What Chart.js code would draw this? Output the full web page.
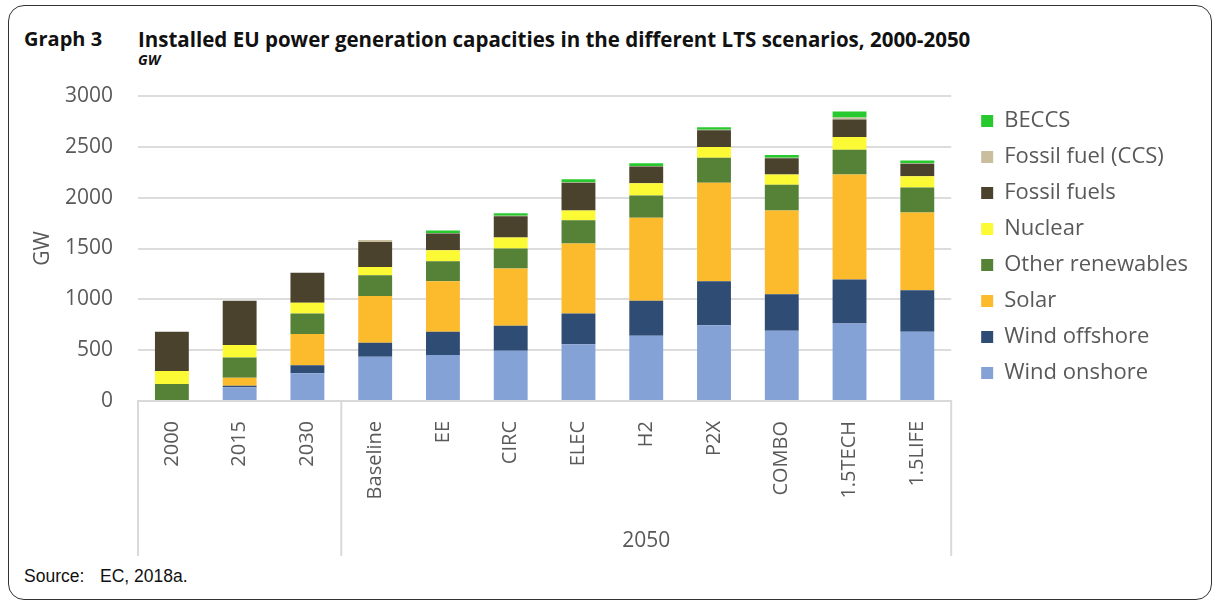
<!DOCTYPE html>
<html>
<head>
<meta charset="utf-8">
<script src="https://cdn.jsdelivr.net/npm/chart.js@4"></script>
<style>
  html, body { margin: 0; padding: 0; background: #fff; }
  body { width: 1215px; height: 601px; position: relative; overflow: hidden; }
  #frame { position: absolute; left: 8px; top: 5px; width: 1204px; height: 595px;
           border: 1.5px solid #333; border-radius: 16px; box-sizing: border-box; }
  .t { position: absolute; white-space: nowrap; color: #111; }
  #num { left: 24px; top: 25px; font: 700 20px "Open Sans", sans-serif; }
  #title { left: 138px; top: 25px; font: 700 20.5px "Open Sans", sans-serif; }
  #unit { left: 138px; top: 50px; font: italic 700 14px "Open Sans", sans-serif; }
  #src1 { left: 24px; top: 566px; font: 17.5px "Liberation Sans Narrow", sans-serif; }
  #src2 { left: 100px; top: 566px; font: 17.5px "Liberation Sans Narrow", sans-serif; }
  #chart { position: absolute; left: 0; top: 0; }
</style>
</head>
<body>
<div id="frame"></div>
<div class="t" id="num">Graph 3</div>
<div class="t" id="title">Installed EU power generation capacities in the different LTS scenarios, 2000-2050</div>
<div class="t" id="unit">GW</div>
<div class="t" id="src1">Source:</div>
<div class="t" id="src2">EC, 2018a.</div>
<canvas id="chart" width="1215" height="601"></canvas>
<script>
// Categories (years, then 2050 scenarios)
const categories = ['2000', '2015', '2030', 'Baseline', 'EE', 'CIRC', 'ELEC', 'H2', 'P2X', 'COMBO', '1.5TECH', '1.5LIFE'];
// Group labels under the category axis: [first index, last index, label]
const groups = [[0, 2, ''], [3, 11, '2050']];

// Installed capacity, GW
const windOnshore  = [0, 135, 272, 435, 452, 494, 557, 641, 746, 690, 763, 681];
const windOffshore = [0, 15, 79, 137, 229, 246, 304, 344, 432, 360, 432, 409];
const solar        = [0, 79, 307, 461, 498, 563, 687, 818, 969, 825, 1034, 763];
const otherRenew   = [167, 200, 203, 203, 196, 196, 229, 219, 246, 252, 243, 246];
const nuclear      = [128, 121, 105, 82, 108, 108, 98, 121, 105, 101, 124, 111];
const fossil       = [386, 435, 295, 246, 164, 209, 272, 164, 164, 160, 173, 124];
const fossilCcs    = [0, 0, 0, 20, 5, 5, 5, 5, 5, 5, 20, 5];
const beccs        = [0, 0, 0, 0, 26, 26, 29, 26, 26, 26, 59, 26];

const yTicks = [0, 500, 1000, 1500, 2000, 2500, 3000];

const grey = '#595959';
const font = '"Open Sans", sans-serif';

// separators and group labels below the category axis
const groupAxis = {
  id: 'groupAxis',
  afterDraw(chart) {
    const { ctx, chartArea, scales: { x } } = chart;
    const half = (x.getPixelForValue(1) - x.getPixelForValue(0)) / 2;
    ctx.save();
    ctx.strokeStyle = '#d9d9d9';
    ctx.lineWidth = 2;
    ctx.fillStyle = grey;
    ctx.font = '21px ' + font;
    ctx.textAlign = 'center';
    ctx.textBaseline = 'middle';
    const edges = [chartArea.left];
    groups.forEach(([a, b, label]) => {
      edges.push(x.getPixelForValue(b) + half);
      if (label) ctx.fillText(label, (x.getPixelForValue(a) + x.getPixelForValue(b)) / 2, 541);
    });
    edges.forEach(px => {
      ctx.beginPath();
      ctx.moveTo(px, chartArea.bottom);
      ctx.lineTo(px, 556);
      ctx.stroke();
    });
    ctx.restore();
  }
};

const ds = (label, data, color) => ({ label, data, backgroundColor: color, borderWidth: 0 });

new Chart(document.getElementById('chart'), {
  type: 'bar',
  data: {
    labels: categories,
    datasets: [
      ds('Wind onshore', windOnshore, '#84a2d6'),
      ds('Wind offshore', windOffshore, '#2f4d74'),
      ds('Solar', solar, '#fbbb2d'),
      ds('Other renewables', otherRenew, '#558236'),
      ds('Nuclear', nuclear, '#fcf935'),
      ds('Fossil fuels', fossil, '#4a422c'),
      ds('Fossil fuel (CCS)', fossilCcs, '#c9bf9f'),
      ds('BECCS', beccs, '#27c92e')
    ]
  },
  options: {
    responsive: false,
    animation: false,
    layout: { padding: { top: 96, bottom: 0, left: 0, right: 17 } },
    datasets: { bar: { barPercentage: 0.5, categoryPercentage: 1 } },
    scales: {
      x: {
        stacked: true,
        grid: { display: false },
        border: { color: '#d9d9d9', width: 2 },
        ticks: { color: grey, font: { family: font, size: 20 }, minRotation: 90, maxRotation: 90, padding: 12 },
        afterFit(s) { s.height = 200; }
      },
      y: {
        stacked: true,
        min: 0,
        max: 3000,
        afterBuildTicks(s) { s.ticks = yTicks.map(v => ({ value: v })); },
        grid: { color: '#dcdcdc', lineWidth: 2, drawTicks: false },
        border: { display: false },
        ticks: { color: grey, font: { family: font, size: 21 }, padding: 25, callback: v => String(v) },
        title: { display: true, text: 'GW', color: grey, font: { family: font, size: 21 }, padding: { top: 30 } },
        afterFit(s) { s.width = 138; }
      },
      gap: {
        position: 'right',
        grid: { display: false },
        border: { display: false },
        ticks: { display: false },
        afterFit(s) { s.width = 16; }
      }
    },
    plugins: {
      legend: {
        position: 'right',
        align: 'start',
        reverse: true,
        maxWidth: 300,
        labels: { color: grey, font: { family: font, size: 22 }, boxWidth: 12, boxHeight: 12, padding: 14 }
      },
      tooltip: { enabled: false }
    }
  },
  plugins: [groupAxis]
});
</script>
</body>
</html>
